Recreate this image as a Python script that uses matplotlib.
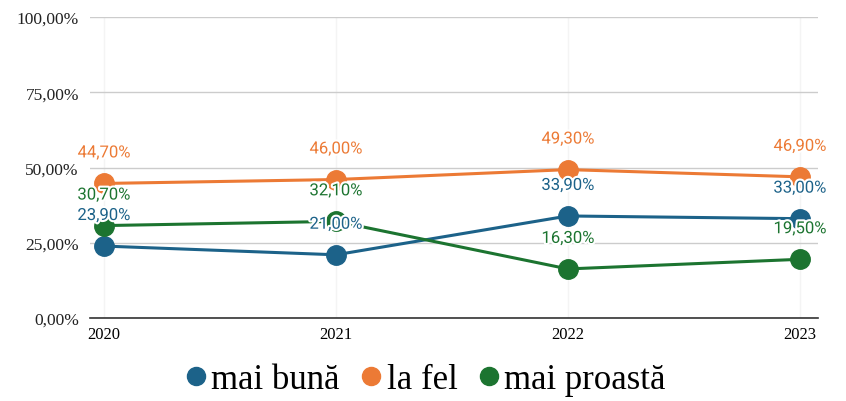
import matplotlib.pyplot as plt
from matplotlib.lines import Line2D
import matplotlib.patheffects as pe
import matplotlib.ticker as ticker

years = ["2020", "2021", "2022", "2023"]
mai_buna = [23.9, 21.0, 33.9, 33.0]
la_fel = [44.7, 46.0, 49.3, 46.9]
mai_proasta = [30.7, 32.1, 16.3, 19.5]

series = [
    ("mai bună", mai_buna, "#1c6289"),
    ("la fel", la_fel, "#ec7a35"),
    ("mai proastă", mai_proasta, "#1c7430"),
]

serif = ["Liberation Serif", "DejaVu Serif"]
sans = ["Roboto", "DejaVu Sans"]


def pct(v):
    return f"{v:.2f}".replace(".", ",") + "%"


fig = plt.figure(figsize=(8.46, 4.02), dpi=100)
ax = fig.add_axes([90 / 846, 1 - 319 / 402, 728 / 846, 301 / 402])

x = list(range(len(years)))
for name, vals, col in series:
    ax.plot(x, vals, color=col, linewidth=2.2, marker="o", markersize=14,
            zorder=3)
for name, vals, col in series:
    for xi, v in zip(x, vals):
        ax.annotate(pct(v), (xi, v), xytext=(0, 22), textcoords="offset points",
                    ha="center", va="center", color=col, fontsize=12,
                    family=sans, zorder=5,
                    path_effects=[pe.withStroke(linewidth=3, foreground="white")])

ax.set_xlim(-0.06, 3.078)
ax.set_ylim(0, 100)
ax.set_xticks(x)
ax.set_xticklabels(years, family=serif, fontsize=12)
ax.yaxis.set_major_locator(ticker.MultipleLocator(25))
ax.yaxis.set_major_formatter(ticker.FuncFormatter(lambda v, p: pct(v)))
for lab in ax.get_yticklabels():
    lab.set_family(serif)
    lab.set_fontsize(12.5)
    lab.set_color("#222222")

ax.grid(True, axis="y", color="#cccccc", linewidth=1)
ax.grid(True, axis="x", color="#f4f4f4", linewidth=1)
ax.set_axisbelow(True)
for s in ["top", "right", "left"]:
    ax.spines[s].set_visible(False)
ax.spines["bottom"].set_color("#333333")
ax.spines["bottom"].set_linewidth(1.2)
ax.tick_params(length=0, pad=8)
ax.tick_params(axis="x", pad=6)

handles = [Line2D([], [], linestyle="none", marker="o", markersize=13,
                  color=col) for _, _, col in series]
fig.legend(handles, [s[0] for s in series], loc="center",
           bbox_to_anchor=(0.5, 1 - 381 / 402), ncol=3, frameon=False,
           prop={"family": serif, "size": 25}, handletextpad=0.0,
           columnspacing=0.45, handlelength=0.9)

fig.savefig("out.png", dpi=100)
